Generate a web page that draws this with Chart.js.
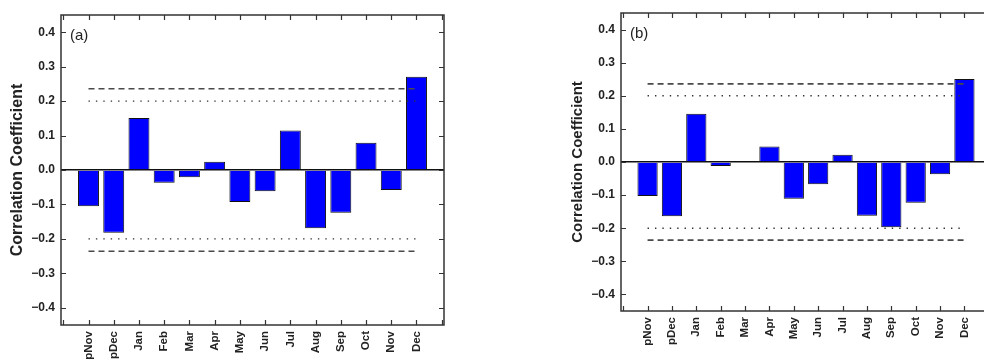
<!DOCTYPE html>
<html lang="en">
<head>
  <meta charset="UTF-8" />
  <title>Monthly Correlation Coefficients</title>
  <script src="https://cdn.jsdelivr.net/npm/chart.js"></script>
  <style>
    html, body { margin: 0; padding: 0; background: #fff; overflow: hidden; }
    body { width: 984px; height: 360px; position: relative; }
    canvas { position: absolute; top: 0; }
    #chartA { left: 0; }
    #chartB { left: 560px; }
  </style>
</head>
<body>
  <canvas id="chartA" width="490" height="360"></canvas>
  <canvas id="chartB" width="490" height="360"></canvas>

<script>
const months = ['pNov', 'pDec', 'Jan', 'Feb', 'Mar', 'Apr', 'May', 'Jun', 'Jul', 'Aug', 'Sep', 'Oct', 'Nov', 'Dec'];
const corrA = [-0.105, -0.182, 0.151, -0.037, -0.021, 0.024, -0.093, -0.062, 0.115, -0.169, -0.124, 0.079, -0.058, 0.271];
const corrB = [-0.103, -0.164, 0.146, -0.012, 0.003, 0.047, -0.111, -0.067, 0.022, -0.162, -0.197, -0.123, -0.037, 0.251];
const dashLevel = 0.236;   // dashed significance line
const dotLevel = 0.2;      // dotted significance line
const yTicks = [-0.4, -0.3, -0.2, -0.1, 0, 0.1, 0.2, 0.3, 0.4];
const xTicks = [-1, 0, 1, 2, 3, 4, 5, 6, 7, 8, 9, 10, 11, 12, 13, 14];

const FONT = "'Liberation Sans', Arial, Helvetica, sans-serif";
const AXIS = '#333';

// box round the plot area with inward ticks on all four sides
const framePlugin = {
  id: 'frame',
  afterDraw(chart) {
    const { ctx, chartArea: a, scales: { x, y } } = chart;
    ctx.save();
    ctx.strokeStyle = AXIS;
    ctx.lineWidth = 1.5;
    ctx.strokeRect(a.left, a.top, a.right - a.left, a.bottom - a.top);
    ctx.beginPath();
    x.ticks.forEach(t => {
      const px = Math.round(x.getPixelForValue(t.value)) + 0.5;
      ctx.moveTo(px, a.bottom); ctx.lineTo(px, a.bottom - 5);
      ctx.moveTo(px, a.top); ctx.lineTo(px, a.top + 5);
    });
    y.ticks.forEach(t => {
      const py = Math.round(y.getPixelForValue(t.value)) + 0.5;
      ctx.moveTo(a.left, py); ctx.lineTo(a.left + 5, py);
      ctx.moveTo(a.right, py); ctx.lineTo(a.right - 5, py);
    });
    ctx.lineWidth = 1.2;
    ctx.stroke();
    ctx.restore();
  }
};

// "(a)" / "(b)" tag in the top-left corner
const tagPlugin = {
  id: 'panelTag',
  afterDraw(chart, args, opts) {
    const { ctx, chartArea: a } = chart;
    ctx.save();
    ctx.font = '15px ' + FONT;
    ctx.fillStyle = '#222';
    ctx.textBaseline = 'middle';
    ctx.fillText(opts.text, a.left + 9, a.top + opts.dy);
    ctx.restore();
  }
};

function refLine(level, dash, width, color) {
  return {
    type: 'line',
    data: [{ x: 0, y: level }, { x: months.length - 1, y: level }],
    borderColor: color,
    borderWidth: width,
    borderDash: dash,
    pointRadius: 0,
    fill: false,
    order: 0
  };
}

function makeChart(id, values, tag, box) {
  return new Chart(document.getElementById(id), {
    data: {
      datasets: [
        refLine(dashLevel, [6, 4], 1.6, '#4a4a4a'),
        refLine(-dashLevel, [6, 4], 1.6, '#4a4a4a'),
        refLine(dotLevel, [1.4, 6], 1.4, '#333'),
        refLine(-dotLevel, [1.4, 6], 1.4, '#333'),
        {
          type: 'bar',
          data: values.map((v, i) => ({ x: i, y: v })),
          backgroundColor: '#0000ff',
          borderColor: '#111',
          borderWidth: 1,
          barPercentage: 0.83,
          categoryPercentage: 1,
          order: 1
        }
      ]
    },
    options: {
      responsive: false,
      animation: false,
      layout: { padding: { top: box.top, right: box.right, left: 0, bottom: 0 } },
      plugins: {
        legend: { display: false },
        tooltip: { enabled: false },
        panelTag: { text: tag, dy: 20.5 }
      },
      scales: {
        x: {
          type: 'linear',
          offset: false,
          min: -1.09,
          max: 14.09,
          grid: { display: false, drawTicks: false },
          border: { display: false },
          afterBuildTicks: s => { s.ticks = xTicks.map(value => ({ value })); },
          afterFit: s => { s.height = box.xHeight; s.paddingLeft = 0; s.paddingRight = 0; },
          ticks: {
            autoSkip: false,
            minRotation: 90,
            maxRotation: 90,
            padding: 6,
            color: '#222',
            font: { family: FONT, size: 11.5, weight: 'bold' },
            callback: v => months[v] ?? ''
          }
        },
        y: {
          min: -0.45,
          max: 0.45,
          grid: {
            drawTicks: false,
            lineWidth: 1.5,
            color: c => (c.tick && c.tick.value === 0 ? '#111' : 'rgba(0,0,0,0)')
          },
          border: { display: false },
          afterBuildTicks: s => { s.ticks = yTicks.map(value => ({ value })); },
          afterFit: s => { s.width = 61; s.paddingTop = 0; s.paddingBottom = 0; },
          title: {
            display: true,
            text: 'Correlation Coefficient',
            color: '#222',
            padding: { top: box.titlePad, bottom: 0 },
            font: { family: FONT, size: box.titleSize, weight: 'bold' }
          },
          ticks: {
            padding: 6,
            color: '#222',
            font: { family: FONT, size: 12, weight: 'bold' },
            callback: v => (v < 0 ? '\u2212' : '') + Math.abs(v).toFixed(1)
          }
        }
      }
    },
    plugins: [framePlugin, tagPlugin]
  });
}

makeChart('chartA', corrA, '(a)', { top: 15, right: 46, xHeight: 35, titleSize: 16, titlePad: 8 });
makeChart('chartB', corrB, '(b)', { top: 13, right: 59, xHeight: 49, titleSize: 15, titlePad: 9 });
</script>
</body>
</html>
